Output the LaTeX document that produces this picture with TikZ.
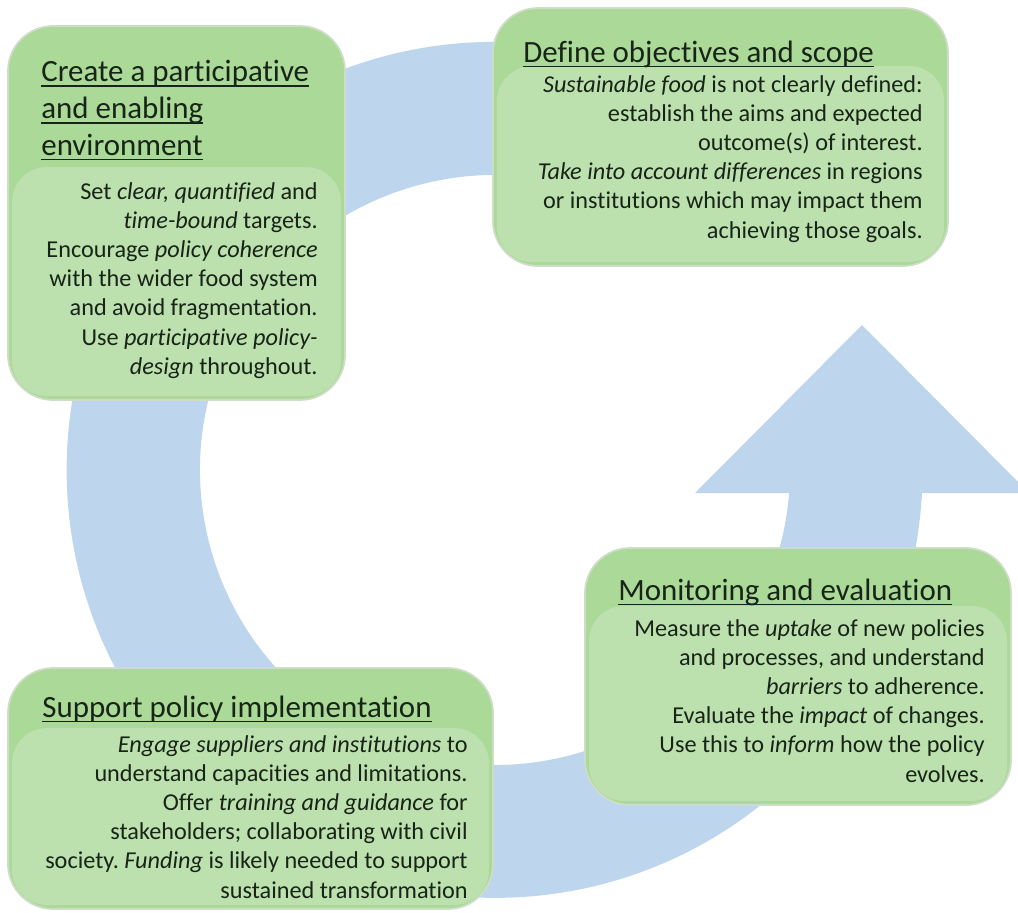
\documentclass[tikz,border=0pt]{standalone}
\usepackage{fontspec}
\setmainfont{Carlito}[Ligatures=NoCommon]
\frenchspacing
\definecolor{ringblue}{HTML}{BED5EE}
\definecolor{headgreen}{HTML}{AAD998}
\definecolor{bodygreen}{HTML}{BCE0AE}
\definecolor{edgegreen}{HTML}{CFDDC8}
\definecolor{inkgreen}{HTML}{172417}
% underline at a fixed depth below the baseline
\newcommand{\ulined}[1]{\setbox0\hbox{#1}\rlap{\rule[-3pt]{\wd0}{0.8pt}}\box0}

\begin{document}
\begin{tikzpicture}[x=0.02cm, y=-0.02cm,
  box/.style={fill=headgreen, draw=edgegreen, line width=1pt, rounded corners=0.9cm},
  panel/.style={fill=bodygreen, rounded corners=0.7cm},
  title/.style={text=inkgreen, font=\fontsize{17.6}{20.9}\selectfont, inner sep=0pt, align=left},
  body/.style={text=inkgreen, font=\fontsize{13.8}{16.6}\selectfont, inner sep=0pt, align=right}]
\useasboundingbox (0, 0) rectangle (1018, 913);

% cycle arrow
\fill[ringblue] (789, 493) -- (695, 493) -- (862, 325) -- (1029, 493) -- (922, 493)
  arc[start angle=3.1, end angle=300, radius=428] -- (642.5, 214.5)
  arc[start angle=300, end angle=4.5, radius=295] -- cycle;

% boxes
\draw[box] (8, 26) rectangle (345, 400);
\fill[panel] (12, 167) rectangle (341, 396);
\draw[box] (493, 8) rectangle (948, 266);
\fill[panel] (497, 66) rectangle (944, 262);
\draw[box] (585, 548) rectangle (1011, 805);
\fill[panel] (589, 606) rectangle (1007, 801);
\draw[box] (8, 668) rectangle (493, 909);
\fill[panel] (12, 728) rectangle (489, 905);

% titles
\node[title, anchor=north west] (envtitle) at (41, 60) {\ulined{Create a participative}\\\ulined{and enabling}\\\ulined{environment}};
\node[title, anchor=base west] (scopetitle) at (523, 62) {\ulined{Define objectives and scope}};
\node[title, anchor=base west] (evaltitle) at (618, 600) {\ulined{Monitoring and evaluation}};
\node[title, anchor=base west] (impltitle) at (42, 717) {\ulined{Support policy implementation}};

% texts
\node[body, anchor=north east] (envtext) at (318, 182) {Set \textit{clear, quantified} and\\
  \textit{time-bound} targets.\\
  Encourage \textit{policy coherence}\\
  with the wider food system\\
  and avoid fragmentation.\\
  Use \textit{participative policy-}\\
  \textit{design} throughout.};
\node[body, anchor=north east] (scopetext) at (923, 75) {\textit{Sustainable food} is not clearly defined:\\
  establish the aims and expected\\
  outcome(s) of interest.\\
  \textit{Take into account differences} in regions\\
  or institutions which may impact them\\
  achieving those goals.};
\node[body, anchor=north east] (evaltext) at (985, 619) {Measure the \textit{uptake} of new policies\\
  and processes, and understand\\
  \textit{barriers} to adherence.\\
  Evaluate the \textit{impact} of changes.\\
  Use this to \textit{inform} how the policy\\
  evolves.};
\node[body, anchor=north east] (impltext) at (468, 735) {\textit{Engage suppliers and institutions} to\\
  understand capacities and limitations.\\
  Offer \textit{training and guidance} for\\
  stakeholders; collaborating with civil\\
  society. \textit{Funding} is likely needed to support\\
  sustained transformation};
\end{tikzpicture}
\end{document}
